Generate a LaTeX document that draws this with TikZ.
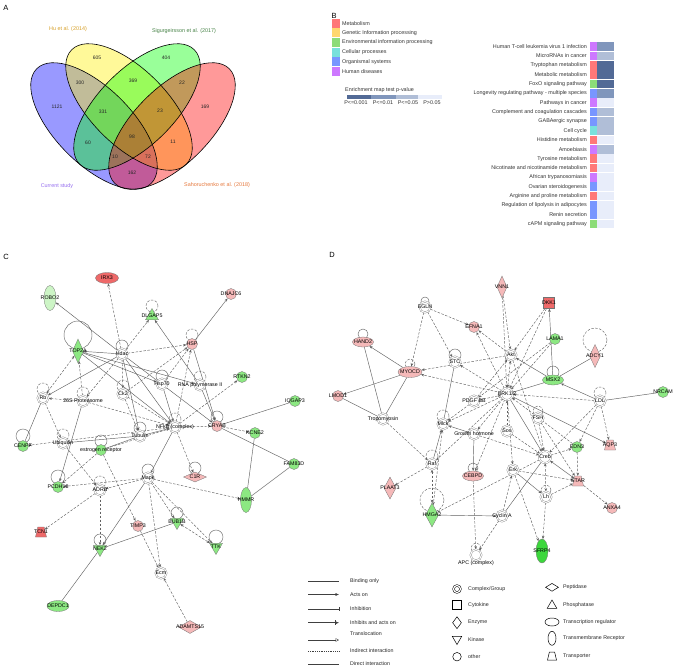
\documentclass[tikz,border=0pt]{standalone}
\usepackage{fontspec}
\setmainfont{Liberation Sans}
\usetikzlibrary{shapes.geometric,arrows.meta}
\pgfdeclarelayer{back}
\pgfdeclarelayer{bg}
\pgfsetlayers{back,bg,main}
\definecolor{gcol}{RGB}{140,232,130}
\definecolor{lgcol}{RGB}{205,245,198}
\definecolor{bgcol}{RGB}{60,215,60}
\definecolor{pcol}{RGB}{245,185,185}
\definecolor{rcol}{RGB}{238,105,105}
\definecolor{cM}{RGB}{255,120,120}
\definecolor{cG}{RGB}{255,215,110}
\definecolor{cE}{RGB}{140,220,120}
\definecolor{cC}{RGB}{120,225,220}
\definecolor{cO}{RGB}{120,150,255}
\definecolor{cH}{RGB}{205,120,255}
\definecolor{pA}{RGB}{82,106,150}
\definecolor{pB}{RGB}{128,150,188}
\definecolor{pC}{RGB}{176,190,215}
\definecolor{pD}{RGB}{232,237,250}
\definecolor{huc}{RGB}{215,160,40}
\definecolor{sic}{RGB}{70,130,70}
\definecolor{cuc}{RGB}{150,110,240}
\definecolor{sac}{RGB}{230,120,60}
\newcommand\fa{\fontsize{5.3}{6}\selectfont}
\newcommand\fb{\fontsize{5.4}{6}\selectfont}
\newcommand\selfloop[4][lD]{\draw[#1] (#2) ++(0,-#3) circle[radius=#4pt];}
\begin{document}
\begin{tikzpicture}[x=1pt,y=-1pt,
  nd/.style={draw=black!55,line width=0.3pt,inner sep=0pt},
  lab/.style={font=\fa,inner sep=0pt,text=black},
  nl/.style={label={[lab]center:#1}},
  gc/.style={nd,circle,fill=gcol,minimum size=11pt},
  pc/.style={nd,circle,fill=pcol,minimum size=11pt},
  cx/.style={circle,draw=black!50,double=white,double distance=1pt,fill=white,minimum size=11pt,inner sep=0pt,line width=0.35pt},
  tri/.style={nd,regular polygon,regular polygon sides=3,minimum size=15pt},
  kin/.style={tri,shape border rotate=180},
  dia/.style={nd,diamond},
  trp/.style={nd,trapezium,trapezium angle=70,trapezium stretches=true,inner sep=0.3pt,minimum width=11pt,minimum height=10pt},
  eS/.style={draw=black!62,line width=0.45pt,-{Stealth[length=3.2pt,width=2.6pt]}},
  eD/.style={eS,dash pattern=on 2.5pt off 1.5pt},
  eL/.style={draw=black!62,line width=0.45pt},
  eDD/.style={eD,{Stealth[length=3.2pt,width=2.6pt]}-{Stealth[length=3.2pt,width=2.6pt]}},
  eSS/.style={eS,{Stealth[length=3.2pt,width=2.6pt]}-{Stealth[length=3.2pt,width=2.6pt]}},
  lD/.style={draw=black!58,line width=0.45pt,dash pattern=on 2.5pt off 1.5pt},
  lS/.style={draw=black!58,line width=0.45pt},
  pl/.style={font=\fontsize{7.5}{8}\selectfont,inner sep=0pt},
  vn/.style={font=\fontsize{5}{6}\selectfont,inner sep=0pt,text=black!85},
  vl/.style={font=\fontsize{5.4}{6}\selectfont,inner sep=0pt},
  bt/.style={font=\fb,inner sep=0pt,text=black!80},
  lg/.style={draw=black!75,line width=0.45pt},
  ls/.style={draw=black,line width=0.5pt,fill=none,inner sep=0pt},
  lt/.style={font=\fa,inner sep=0pt,anchor=west,text=black!85}
]
\useasboundingbox (0,0) rectangle (677,670);
\begin{pgfonlayer}{back}
\fill[white] (0,0) rectangle (677,670);
\end{pgfonlayer}

% ================= A =================
\node[pl] (la) at (6,8) {A};
\fill[blue,fill opacity=0.4,rotate around={-45:(94,126)}] (94,126) ellipse (81pt and 38pt);
\fill[yellow,fill opacity=0.4,rotate around={-45:(129,107)}] (129,107) ellipse (81pt and 38pt);
\fill[green,fill opacity=0.4,rotate around={45:(137,107)}] (137,107) ellipse (81pt and 38pt);
\fill[red,fill opacity=0.4,rotate around={45:(172,126)}] (172,126) ellipse (81pt and 38pt);
\draw[line width=0.6pt,rotate around={-45:(94,126)}] (94,126) ellipse (81pt and 38pt);
\draw[line width=0.6pt,rotate around={-45:(129,107)}] (129,107) ellipse (81pt and 38pt);
\draw[line width=0.6pt,rotate around={45:(137,107)}] (137,107) ellipse (81pt and 38pt);
\draw[line width=0.6pt,rotate around={45:(172,126)}] (172,126) ellipse (81pt and 38pt);
\node[vl,text=huc] (t1) at (68,29) {Hu et al. (2014)};
\node[vl,text=sic] (t2) at (184,31) {Sigurgeirsson et al. (2017)};
\node[vl,text=cuc] (t3) at (57,186) {Current study};
\node[vl,text=sac] (t4) at (217,185) {Sahoruchenko et al. (2018)};
\node[vn] (n1) at (97,58) {605};
\node[vn] (n2) at (166,58) {404};
\node[vn] (n3) at (80,83) {300};
\node[vn] (n4) at (133,81) {369};
\node[vn] (n5) at (182,83) {22};
\node[vn] (n6) at (57,107) {1121};
\node[vn] (n7) at (103,112) {331};
\node[vn] (n8) at (160,111) {23};
\node[vn] (n9) at (205,107) {169};
\node[vn] (n10) at (132,137) {98};
\node[vn] (n11) at (88,143) {60};
\node[vn] (n12) at (173,142) {11};
\node[vn] (n13) at (115,157) {10};
\node[vn] (n14) at (148,157) {72};
\node[vn] (n15) at (132,173) {162};

% ================= B =================
\node[pl] (lb) at (334,16) {B};
\foreach \i/\t/\c in {0/Metabolism/cM,1/Genetic Information processing/cG,2/Environmental information processing/cE,3/Cellular processes/cC,4/Organismal systems/cO,5/Human diseases/cH}{
  \pgfmathsetmacro\yy{23.3+9.6*\i}
  \fill[\c] (331.5,\yy-4.5) rectangle (339.5,\yy+4.5);
  \node[bt,anchor=west] at (342,\yy) {\t};
}
\node[bt,anchor=west] (ent) at (345,90.5) {Enrichment map test p-value};
\fill[pA] (347,95.3) rectangle (371,98.7);
\fill[pB] (371,95.3) rectangle (396,98.7);
\fill[pC] (396,95.3) rectangle (418,98.7);
\fill[pD] (418,95.3) rectangle (442,98.7);
\node[bt] (pa) at (356,103) {P<=0.001};
\node[bt] (pb) at (383,103) {P<=0.01};
\node[bt] (pc) at (408,103) {P<=0.05};
\node[bt] (pd) at (432,103) {P>0.05};
\foreach \i/\t/\c/\p in {0/Human T-cell leukemia virus 1 infection/cH/pB,
 1/MicroRNAs in cancer/cH/pC,
 2/Tryptophan metabolism/cM/pA,
 3/Metabolic metabolism/cM/pA,
 4/FoxO signaling pathway/cE/pA,
 5/Longevity regulating pathway - multiple species/cO/pB,
 6/Pathways in cancer/cH/pD,
 7/Complement and coagulation cascades/cO/pC,
 8/GABAergic synapse/cO/pC,
 9/Cell cycle/cC/pC,
 10/Histidine metabolism/cM/pD,
 11/Amoebiasis/cH/pC,
 12/Tyrosine metabolism/cM/pD,
 13/Nicotinate and nicotinamide metabolism/cM/pD,
 14/African trypanosomiasis/cH/pD,
 15/Ovarian steroidogenesis/cO/pD,
 16/Arginine and proline metabolism/cM/pD,
 17/Regulation of lipolysis in adipocytes/cO/pD,
 18/Renin secretion/cO/pD,
 19/cAPM signaling pathway/cE/pD}{
  \pgfmathsetmacro\yy{46.7+9.33*\i}
  \fill[\c] (589.5,\yy-4.3) rectangle (596.5,\yy+4.3);
  \fill[\p] (597.2,\yy-4.3) rectangle (613.5,\yy+4.3);
  \node[bt,anchor=east] at (587,\yy) {\t};
}

% ================= C =================
\node[pl] (lc) at (6,257) {C};
\node[nd,ellipse,fill=rcol,minimum width=23pt,minimum height=11pt,nl=IRX3] (irx3) at (107,278) {};
\node[nd,ellipse,fill=lgcol,minimum width=12pt,minimum height=25pt,nl=ROBO2] (robo2) at (50,298) {};
\node[tri,fill=gcol,nl=DLGAP5] (dlgap5) at (152,316) {};
\node[pc,nl=DNAJC6] (dnajc6) at (231,294) {};
\node[dia,fill=gcol,minimum width=11pt,minimum height=24pt,nl=TOP2A] (top2a) at (78,351) {};
\node[cx,nl=Hdac] (hdac) at (122,354) {};
\node[pc,nl=HSP] (hsp) at (192,344) {};
\node[gc,nl=RTKN2] (rtkn2) at (242,377) {};
\node[gc,nl=IQGAP3] (iqgap3) at (295,401) {};
\node[cx,nl=Hsp70] (hsp70) at (162,384) {};
\node[cx,nl={RNA polymerase II}] (rnap) at (200,385) {};
\node[cx,nl=Rb] (rb) at (43,398) {};
\node[cx,nl={26S Proteasome}] (p26s) at (83,401) {};
\node[cx,nl=Ck2] (ck2) at (123,394) {};
\node[cx,nl={NFkB (complex)}] (nfkb) at (175,427) {};
\node[pc,nl=CRYAB] (cryab) at (217,426) {};
\node[gc,nl=KCNE2] (kcne2) at (255,433) {};
\node[cx,nl=Ubiquitin] (ubiq) at (63,443) {};
\node[gc,nl={estrogen receptor}] (er) at (101,450) {};
\node[gc,nl=CENPF] (cenpf) at (23,446) {};
\node[cx,nl=Tubulin] (tub) at (140,436) {};
\node[gc,nl=FAM83D] (fam83d) at (294,464) {};
\node[dia,fill=pcol,minimum width=23pt,minimum height=10pt,nl=C1R] (c1r) at (195,477) {};
\node[cx,nl=Mapk] (mapk) at (148,478) {};
\node[nd,ellipse,fill=gcol,minimum width=11pt,minimum height=25pt,nl=HMMR] (hmmr) at (246,500) {};
\node[gc,nl=PCDH18] (pcdh18) at (58,487) {};
\node[cx,nl=ADRB] (adrb) at (100,490) {};
\node[trp,fill=rcol,nl=TCN1] (tcn1) at (41,532) {};
\node[pc,nl=TIMP3] (timp3) at (138,526) {};
\node[kin,fill=gcol,nl=BUB1B] (bub1b) at (177,522) {};
\node[kin,fill=gcol,nl=NEK2] (nek2) at (100,549) {};
\node[kin,fill=gcol,nl=TTK] (ttk) at (216,547) {};
\node[cx,nl=Ecm] (ecm) at (161,573) {};
\node[nd,ellipse,fill=gcol,minimum width=22pt,minimum height=11pt,nl=DEPDC1] (depdc1) at (58,606) {};
\node[dia,fill=pcol,minimum width=23pt,minimum height=13pt,nl=ADAMTS15] (adamts15) at (190,627) {};

% ================= D =================
\node[pl] (ld) at (332,255) {D};
\node[cx,nl=EGLN] (egln) at (425,307) {};
\node[pc,nl=EFNA1] (efna1) at (474,327) {};
\node[nd,ellipse,fill=pcol,minimum width=21pt,minimum height=10pt,nl=HAND2] (hand2) at (363,342) {};
\node[nd,ellipse,fill=pcol,minimum width=24pt,minimum height=11pt,nl=MYOCD] (myocd) at (410,372) {};
\node[pc,nl=LMOD1] (lmod1) at (338,396) {};
\node[cx,nl=STC] (stc) at (455,362) {};
\node[cx,nl={PDGF BB}] (pdgf) at (474,401) {};
\node[dia,fill=pcol,minimum width=10pt,minimum height=22pt,nl=VNN1] (vnn1) at (502,287) {};
\node[nd,rectangle,fill=rcol,minimum size=11pt,nl=DKK1] (dkk1) at (549,303) {};
\node[gc,nl=LAMA1] (lama1) at (555,339) {};
\node[dia,fill=pcol,minimum width=11pt,minimum height=23pt,nl=ADCY1] (adcy1) at (595,356) {};
\node[cx,nl=Akt] (akt) at (511,355) {};
\node[nd,ellipse,fill=gcol,minimum width=21pt,minimum height=10pt,nl=MSX2] (msx2) at (553,380) {};
\node[cx,minimum size=12pt,nl=ERK1/2] (erk12) at (507,394) {};
\node[gc,nl=NRCAM] (nrcam) at (663,392) {};
\node[cx,nl=LDL] (ldl) at (600,401) {};
\node[cx,nl=Tropomyosin] (tropo) at (383,419) {};
\node[cx,nl=Mlck] (mlck) at (443,424) {};
\node[cx,nl={Growth hormone}] (gh) at (474,434) {};
\node[cx,nl=Raf] (raf) at (432,464) {};
\node[nd,ellipse,fill=pcol,minimum width=21pt,minimum height=10pt,nl=CEBPD] (cebpd) at (473,476) {};
\node[dia,fill=pcol,minimum width=12pt,minimum height=22pt,nl=PLAAT3] (plaat3) at (390,488) {};
\node[dia,fill=gcol,minimum width=13pt,minimum height=24pt,nl=HMGA2] (hmga2) at (432,515) {};
\node[cx,nl={Cyclin A}] (cyca) at (502,516) {};
\node[cx,label={[lab]below:APC (complex)}] (apc) at (476,555) {};
\node[cx,nl=FSH] (fsh) at (538,418) {};
\node[cx,nl=Sos] (sos) at (507,431) {};
\node[gc,nl=EDN3] (edn3) at (577,447) {};
\node[trp,fill=pcol,nl=AQP3] (aqp3) at (610,445) {};
\node[cx,minimum size=12pt,nl=Creb] (creb) at (545,457) {};
\node[cx,nl=Erk] (erk) at (513,470) {};
\node[trp,fill=pcol,nl=STAR] (star) at (578,481) {};
\node[cx,nl=Lh] (lh) at (546,497) {};
\node[pc,nl=ANXA4] (anxa4) at (612,508) {};
\node[nd,ellipse,fill=bgcol,minimum width=12pt,minimum height=24pt,nl=SFRP4] (sfrp4) at (542,551) {};

% ================= edges =================
\begin{pgfonlayer}{bg}
% loops C
\selfloop{dlgap5}{10}{6}
\selfloop[lS]{top2a}{16}{14}
\selfloop{hsp}{9}{6}
\selfloop[lS]{hsp70}{8}{6}
\selfloop{rnap}{8}{6}
\selfloop{rb}{9}{6}
\selfloop{p26s}{8}{6}
\selfloop{ck2}{8}{6}
\selfloop{nfkb}{8}{6}
\selfloop[lS]{cryab}{9}{6}
\selfloop{ubiq}{8}{6}
\selfloop[lS]{er}{9}{6}
\selfloop[lS]{cenpf}{10}{7}
\selfloop[lS]{tub}{8}{6}
\selfloop[lS]{c1r}{9}{6}
\selfloop[lS]{mapk}{8}{6}
\selfloop[lS]{pcdh18}{10}{7}
\selfloop{adrb}{8}{6}
\selfloop[lS]{bub1b}{9}{6}
\selfloop[lS]{nek2}{9}{6}
\selfloop[lS]{ttk}{10}{7}
\selfloop[lS]{hdac}{8}{6}
% loops D
\selfloop[lS]{hand2}{8}{5}
\selfloop{myocd}{8}{5}
\selfloop[lS]{stc}{7}{6}
\selfloop[lS]{egln}{6}{4}
\selfloop{adcy1}{16}{12}
\selfloop[lS]{msx2}{8}{6}
\selfloop{ldl}{8}{6}
\selfloop{mlck}{8}{6}
\selfloop{raf}{8}{6}
\selfloop[lS]{cebpd}{8}{5}
\selfloop{hmga2}{15}{12}
\selfloop{apc}{7}{5}
\selfloop{fsh}{7}{5}
\selfloop{lh}{7}{5}
% edges C
\draw[eD] (hdac) -- (irx3);
\draw[eS] (hdac) -- (robo2);
\draw[eD] (hdac) -- (dlgap5);
\draw[eS] (hdac) -- (top2a);
\draw[eD] (hdac) -- (hsp);
\draw[eS] (hdac) -- (rb);
\draw[eD] (hdac) -- (ck2);
\draw[eS] (hdac) -- (nfkb);
\draw[eS] (hdac) -- (cryab);
\draw[eS] (hdac) -- (tub);
\draw[eS] (rnap) -- (dlgap5);
\draw[eS] (hsp) -- (dnajc6);
\draw[eS] (hsp) -- (cryab);
\draw[eDD] (top2a) -- (rb);
\draw[eD] (p26s) -- (top2a);
\draw[eS] (top2a) -- (nfkb);
\draw[eS] (top2a) -- (hsp70);
\draw[eS] (top2a) -- (rnap);
\draw[eL] (rb) -- (cenpf);
\draw[eD] (rb) -- (ubiq);
\draw[eD] (p26s) -- (rb);
\draw[eS] (p26s) -- (pcdh18);
\draw[eD] (nfkb) -- (cenpf);
\draw[eD] (ubiq) -- (adrb);
\draw[eD] (er) -- (pcdh18);
\draw[eD] (er) -- (timp3);
\draw[eL] (ubiq) -- (tub);
\draw[eD] (er) -- (nfkb);
\draw[eD] (adrb) -- (tcn1);
\draw[eD] (adrb) -- (nek2);
\draw[eS] (mapk) -- (nek2);
\draw[eD] (mapk) -- (adrb);
\draw[eD] (mapk) -- (pcdh18);
\draw[eD] (timp3) -- (ecm);
\draw[eL] (nek2) -- (bub1b);
\draw[eL] (nek2) -- (depdc1);
\draw[eD] (adamts15) -- (ecm);
\draw[eDD] (bub1b) -- (ttk);
\draw[eD] (mapk) -- (hmmr);
\draw[eL] (hmmr) -- (kcne2);
\draw[eL] (hmmr) -- (fam83d);
\draw[eL] (cryab) -- (fam83d);
\draw[eL] (cryab) -- (iqgap3);
\draw[eD] (cryab) -- (kcne2);
\draw[eD] (nfkb) -- (rtkn2);
\draw[eD] (nfkb) -- (c1r);
\draw[eD] (mapk) -- (ecm);
\draw[eD] (nfkb) -- (cryab);
\draw[eD] (ck2) -- (nfkb);
\draw[eD] (ck2) -- (hsp);
\draw[eD] (hsp70) -- (hsp);
\draw[eS] (rnap) -- (cryab);
\draw[eD] (p26s) -- (nfkb);
\draw[eS] (tub) -- (nfkb);
\draw[eD] (mapk) -- (bub1b);
\draw[eD] (ck2) -- (tub);
\draw[eD] (hdac) -- (p26s);
\draw[eS] (hsp70) -- (nfkb);
\draw[eD] (mapk) -- (ttk);
\draw[eL] (tub) -- (er);
\draw[eS] (nfkb) -- (mapk);
\draw[eD] (nfkb) -- (hsp);
% edges D
\draw[eD] (egln) -- (efna1);
\draw[eD] (egln) -- (myocd);
\draw[eD] (egln) -- (stc);
\draw[eS] (myocd) -- (hand2);
\draw[eS] (myocd) -- (lmod1);
\draw[eL] (hand2) -- (tropo);
\draw[eL] (myocd) -- (tropo);
\draw[eL] (lmod1) -- (tropo);
\draw[eD] (erk12) -- (myocd);
\draw[eL] (stc) -- (mlck);
\draw[eD] (erk12) -- (efna1);
\draw[eD] (akt) -- (efna1);
\draw[eD] (vnn1) -- (akt);
\draw[eD] (vnn1) -- (erk12);
\draw[eD] (dkk1) -- (akt);
\draw[eD] (dkk1) -- (erk12);
\draw[eS] (msx2) -- (dkk1);
\draw[eD] (lama1) -- (erk12);
\draw[eL] (msx2) -- (adcy1);
\draw[eS] (msx2) -- (akt);
\draw[eL] (msx2) -- (erk12);
\draw[eS] (ldl) -- (msx2);
\draw[eL] (ldl) -- (nrcam);
\draw[eD] (ldl) -- (erk12);
\draw[eD] (erk12) -- (stc);
\draw[eD] (pdgf) -- (erk12);
\draw[eD] (pdgf) -- (akt);
\draw[eD] (pdgf) -- (mlck);
\draw[eD] (erk12) -- (mlck);
\draw[eD] (erk12) -- (gh);
\draw[eD] (erk12) -- (raf);
\draw[eD] (erk12) -- (cebpd);
\draw[eD] (tropo) -- (raf);
\draw[eD] (raf) -- (plaat3);
\draw[eDD] (raf) -- (hmga2);
\draw[eDD] (mlck) -- (hmga2);
\draw[eS] (gh) -- (cebpd);
\draw[eD] (cebpd) -- (apc);
\draw[eS] (hmga2) -- (cyca);
\draw[eD] (cyca) -- (apc);
\draw[eD] (creb) -- (edn3);
\draw[eS] (erk12) -- (aqp3);
\draw[eD] (ldl) -- (aqp3);
\draw[eD] (ldl) -- (edn3);
\draw[eSS] (creb) -- (star);
\draw[eDD] (creb) -- (lh);
\draw[eD] (star) -- (anxa4);
\draw[eD] (lh) -- (sfrp4);
\draw[eD] (erk) -- (sfrp4);
\draw[eS] (erk) -- (lh);
\draw[eD] (erk) -- (star);
\draw[eL] (creb) -- (cyca);
\draw[eD] (edn3) -- (star);
\draw[eD] (fsh) -- (creb);
\draw[eD] (fsh) -- (star);
\draw[eD] (sos) -- (erk12);
\draw[eD] (sos) -- (creb);
\draw[eD] (creb) -- (hmga2);
\draw[eD] (lh) -- (star);
\draw[eS] (erk12) -- (creb);
\draw[eD] (lama1) -- (pdgf);
\draw[eD] (akt) -- (myocd);
\draw[eS] (gh) -- (mlck);
\draw[eS] (raf) -- (mlck);
\draw[eD] (cyca) -- (erk);
\draw[eD] (edn3) -- (erk12);
\draw[eD] (erk12) -- (erk);
\draw[eD] (akt) -- (creb);
\draw[eD] (gh) -- (creb);
\draw[eD] (ldl) -- (creb);
\draw[eDD] (akt) -- (erk12);
\end{pgfonlayer}

% ================= legend =================
\coordinate (a1) at (308,581); \coordinate (b1) at (339,581);
\coordinate (a2) at (308,594.5); \coordinate (b2) at (339,594.5);
\coordinate (a3) at (308,609); \coordinate (b3) at (339,609);
\coordinate (a4) at (308,622.7); \coordinate (b4) at (339,622.7);
\coordinate (a5) at (308,640); \coordinate (b5) at (339,640);
\coordinate (a6) at (308,651); \coordinate (b6) at (339,651);
\coordinate (a7) at (308,664); \coordinate (b7) at (339,664);
\draw[lg] (a1) -- (b1);
\draw[lg,-{Latex[length=3.5pt,width=3pt]}] (a2) -- (b2);
\draw[lg,-{Bar[width=4.5pt]}] (a3) -- (b3);
\draw[lg,-{Bar[width=4.5pt]Latex[length=3.5pt,width=3pt]}] (a4) -- (b4);
\draw[lg,-{Triangle[open,length=3.5pt,width=3.5pt]}] (a5) -- (b5);
\draw[lg,dash pattern=on 1pt off 0.8pt] (a6) -- (b6);
\draw[lg] (a7) -- (b7);
\node[lt] (g1) at (350,581) {Binding only};
\node[lt] (g2) at (350,594.5) {Acts on};
\node[lt] (g3) at (350,609) {Inhibition};
\node[lt] (g4) at (350,622.7) {Inhibits and acts on};
\node[lt] (g5) at (350,634) {Translocation};
\node[lt] (g6) at (350,651) {Indirect interaction};
\node[lt] (g7) at (350,664) {Direct interaction};

\node[ls,circle,double,double distance=1.2pt,minimum size=7pt] (s1) at (457,589) {};
\node[ls,rectangle,minimum size=9pt] (s2) at (457,605) {};
\node[ls,diamond,minimum width=9pt,minimum height=12pt] (s3) at (457,622.7) {};
\node[ls,regular polygon,regular polygon sides=3,shape border rotate=180,minimum size=11pt] (s4) at (457,639) {};
\node[ls,circle,minimum size=8.5pt] (s5) at (457,656.7) {};
\node[lt] (h1) at (468,589) {Complex/Group};
\node[lt] (h2) at (468,605) {Cytokine};
\node[lt] (h3) at (468,622.7) {Enzyme};
\node[lt] (h4) at (468,640) {Kinase};
\node[lt] (h5) at (468,656.7) {other};

\node[ls,diamond,minimum width=13pt,minimum height=8pt] (s6) at (552,587.3) {};
\node[ls,regular polygon,regular polygon sides=3,minimum size=11pt] (s7) at (552,605.5) {};
\node[ls,ellipse,minimum width=14pt,minimum height=8pt] (s8) at (552,622) {};
\node[ls,ellipse,minimum width=8pt,minimum height=14pt] (s9) at (552,638.3) {};
\node[ls,trapezium,trapezium angle=70,trapezium stretches=true,inner sep=0.3pt,minimum width=9pt,minimum height=8pt] (s10) at (552,656) {};
\node[lt] (k1) at (563,587.3) {Peptidase};
\node[lt] (k2) at (563,604.7) {Phosphatase};
\node[lt] (k3) at (563,622) {Transcription regulator};
\node[lt] (k4) at (563,638.3) {Transmembrane Receptor};
\node[lt] (k5) at (563,656) {Transporter};
\end{tikzpicture}
\end{document}
